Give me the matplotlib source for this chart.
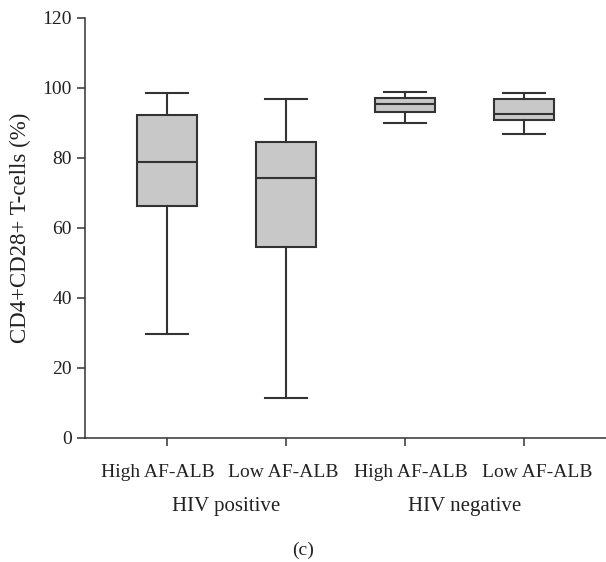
import matplotlib
matplotlib.use("Agg")
from matplotlib import pyplot as plt
from matplotlib.transforms import ScaledTranslation

# box statistics (percent)
groups = ["HIV positive", "HIV negative"]
labels = ["High AF-ALB", "Low AF-ALB", "High AF-ALB", "Low AF-ALB"]
whislo = [29.8, 11.3, 90.1, 86.9]
q1 = [66.4, 54.6, 93.2, 90.9]
med = [78.8, 74.3, 95.4, 92.6]
q3 = [92.2, 84.6, 97.2, 96.9]
whishi = [98.5, 97.0, 98.9, 98.5]

plt.rcParams['font.family'] = ['Liberation Serif', 'DejaVu Serif']

fig = plt.figure(figsize=(6.06, 5.62), dpi=100)
ax = fig.add_axes([85 / 606, 1 - 438 / 562, 1 - 85 / 606, 420 / 562])

stats = []
for i in range(len(labels)):
    stats.append({"label": labels[i], "whislo": whislo[i], "q1": q1[i], "med": med[i],
                  "q3": q3[i], "whishi": whishi[i], "fliers": []})

line_c = "#333333"
ax.bxp(stats, positions=[1, 2, 3, 4], widths=0.5, capwidths=0.35, patch_artist=True,
       showfliers=False,
       boxprops=dict(facecolor="#c8c8c8", edgecolor=line_c, linewidth=1.5),
       medianprops=dict(color=line_c, linewidth=1.5),
       whiskerprops=dict(color=line_c, linewidth=1.5),
       capprops=dict(color=line_c, linewidth=1.5))

ax.set_xlim(0.31, 4.69)
ax.set_ylim(0, 120)
ax.set_yticks(range(0, 121, 20))
ax.spines['top'].set_visible(False)
ax.spines['right'].set_visible(False)
for s in ['left', 'bottom']:
    ax.spines[s].set_color(line_c)
    ax.spines[s].set_linewidth(1.1)
ax.tick_params(axis='both', direction='out', length=6, width=1.1, color=line_c,
               labelsize=14, labelcolor="#222222")
ax.tick_params(axis='x', pad=13)
ax.set_ylabel("CD4+CD28+ T-cells (%)", fontsize=16.5, color="#222222", labelpad=8)

# the category labels sit evenly spaced, a little off their ticks
shifts = [-9.5, -2.5, 6, 13]
for lab, dx in zip(ax.get_xticklabels(), shifts):
    lab.set_transform(lab.get_transform() + ScaledTranslation(dx / 100, 0, fig.dpi_scale_trans))

# group labels under the category labels
for k, g in enumerate(groups):
    ax.text(1.5 + 2 * k, -19.5, g, ha='center', va='center', fontsize=15, color="#222222")
fig.text(0.5, 1 - 550 / 562, "(c)", ha='center', va='center', fontsize=14, color="#222222")

fig.savefig("out.png", dpi=100)
